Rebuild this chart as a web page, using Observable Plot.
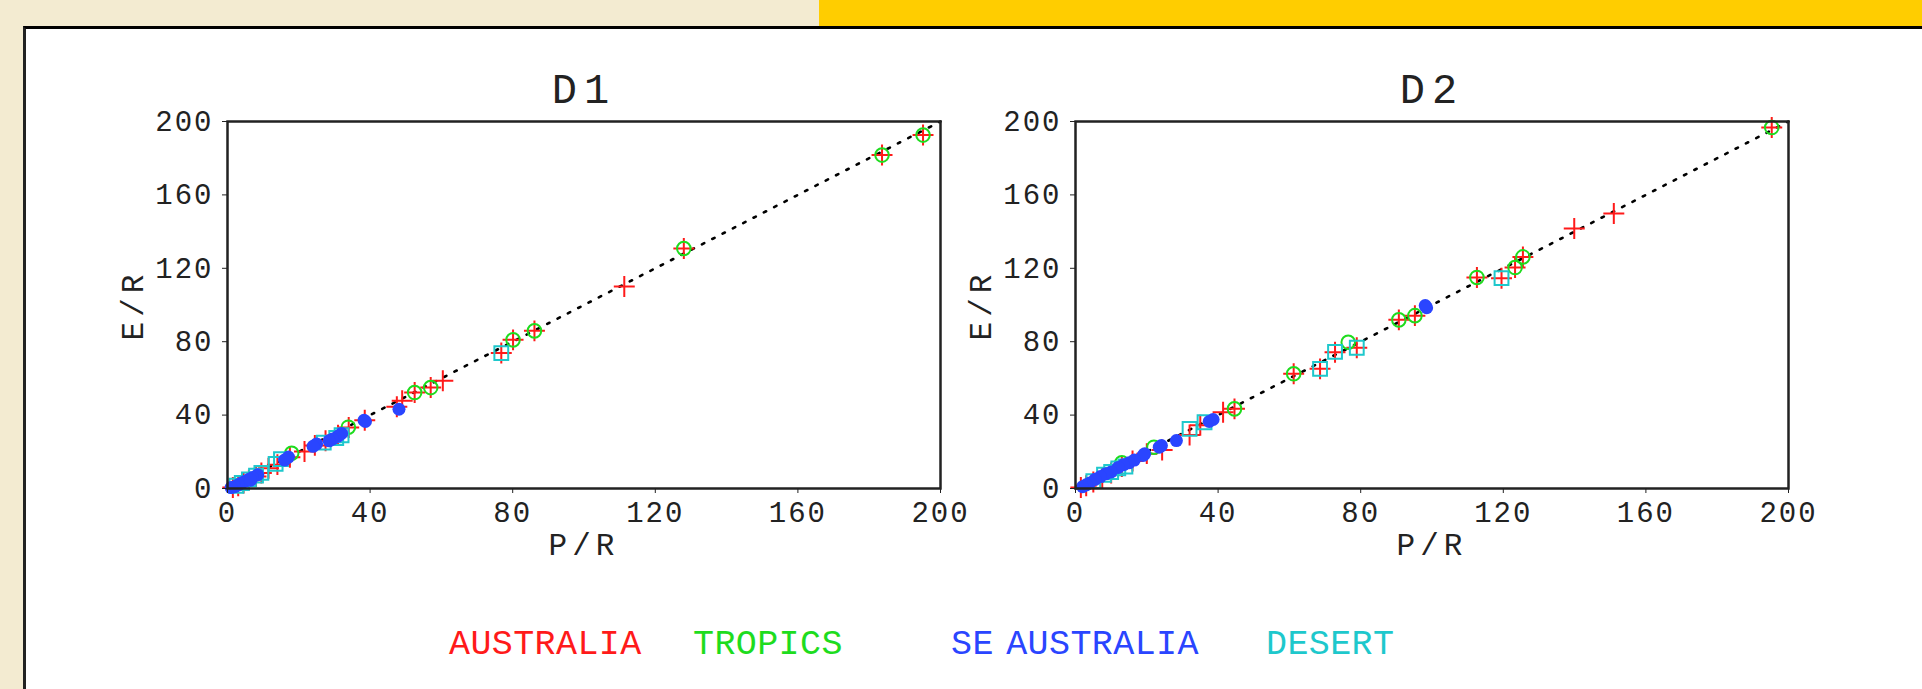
<!DOCTYPE html>
<html>
<head>
<meta charset="utf-8">
<script src="https://cdn.jsdelivr.net/npm/d3@7"></script>
<script src="https://cdn.jsdelivr.net/npm/@observablehq/plot@0.6"></script>
<style>
  html, body { margin: 0; padding: 0; }
  body { width: 1922px; height: 689px; background: #f3ebd1; position: relative; overflow: hidden;
         font-family: "Liberation Mono", "DejaVu Sans Mono", monospace; }
  #yellow { position: absolute; left: 819px; top: 0; width: 1103px; height: 26px; background: #ffcd00; }
  #panel { position: absolute; left: 23px; top: 26px; right: 0; bottom: 0; background: #fff;
           border-top: 3px solid #000; border-left: 3px solid #222; }
  .plot { position: absolute; top: 40px; }
  .leg { position: absolute; top: 628px; font-size: 35px; line-height: 35px; white-space: pre; letter-spacing: 0.4px; word-spacing: -9px; }
</style>
</head>
<body>
<div id="yellow"></div>
<div id="panel"></div>
<div id="p1" class="plot" style="left:100px"></div>
<div id="p2" class="plot" style="left:948px"></div>
<div id="legend"></div>
<script>
// ---- data (P/R, E/R) ----
const tickValues = [0, 40, 80, 120, 160, 200];
const oneToOne = [0, 200];
const panelTitles = ["D1", "D2"];
const seriesNames = ["AUSTRALIA", "TROPICS", "SE AUSTRALIA", "DESERT"];
const seriesColors = ["#ff1a1a", "#1edc1e", "#2a45ff", "#1ec8cc"];
const legendX = [449, 693, 951, 1266];

const d1Australia = [[195.1,192.6],[183.6,181.7],[128,130.8],[111.3,110.1],[86.1,85.9],[80.1,81],[76.8,73.8],
  [60.4,58.7],[57,55],[52.5,52.3],[49,47.8],[47.5,44.5],[38.5,37.2],[34,33.2],[31,29],[27.5,26],[24.5,23.5],
  [21.6,20.2],[17.5,17],[14,13],[11.5,11],[9.5,8.5],[8,6.5],[6,4.5],[4.5,3],[3,1.5],[1.5,0.5]];
const d1Tropics = [[195.1,192.6],[183.6,181.7],[128,130.8],[86.1,85.9],[80.1,81],[57,55],[52.5,52.3],
  [33.9,33.4],[18,19.2]];
const d1SEAustralia = [[48.1,43.2],[38.3,37.2],[38.7,36.5],[32,30],[31,28.5],[29.5,27],[28.5,26],[25,24.3],
  [24,23],[17.1,17.1],[16,15.5],[8.5,7.5],[7,6],[6,5],[5,4],[4,3],[3,2],[2,1],[1,0.5],[6.5,4.5]];
const d1Desert = [[76.8,73.8],[32,29],[30.5,27.5],[27,25],[15,16],[13.5,13.4],[9.5,8.5],[8,7],[6,5],[4,3],[2.5,1.5]];

const d2Australia = [[195.3,196.7],[151,149.9],[139.9,141.7],[125.5,126.2],[123.3,120.4],[119.5,114.6],[112.6,115],
  [95.2,94.2],[90.7,91.9],[78.9,76.7],[72.8,74.2],[68.6,65.2],[61.2,62.5],[44.6,43.4],[41.4,41.6],[35,34.5],
  [32,29.2],[24.3,21],[20,19],[16,15],[13,12],[10,8.5],[7.5,6],[5,3.5],[3,1.5],[1.5,0.5]];
const d2Tropics = [[195.3,196.7],[125.5,126.2],[123.3,120.4],[112.6,115],[95.2,94.2],[90.7,91.9],[76.5,79.7],
  [61.2,62.5],[44.6,43.4],[22,22.5],[13,14]];
const d2SEAustralia = [[98.1,99.7],[98.5,98.5],[38.6,37.6],[37.5,36.5],[28.3,26.1],[24.1,23.4],[23.5,22.5],
  [19.4,18.9],[19,18],[16.5,15.5],[15,14],[13.5,13],[12,11.5],[10,9],[8.5,8],[7,6.5],[5.5,5],[4,3],[3,2],[2,1]];
const d2Desert = [[119.5,114.6],[78.9,76.7],[72.8,74.5],[68.6,65.2],[36.2,36.1],[32,32.5],[14,12],[12,11],
  [10,9],[8,7.5],[5,4]];

const FONT = '"Liberation Mono", "DejaVu Sans Mono", monospace';

function panel(title, aus, tro, se, des) {
  const svg = Plot.plot({
    width: 870, height: 528,
    marginLeft: 127, marginRight: 30, marginTop: 81, marginBottom: 80,
    x: { domain: [0, 200], nice: false },
    y: { domain: [0, 200], nice: false },
    style: { fontFamily: FONT, fontSize: "29px", letterSpacing: "2px", color: "#222", background: "transparent", overflow: "visible" },
    marks: [
      Plot.line(oneToOne, { x: d => d, y: d => d, stroke: "#000", strokeWidth: 2.6, strokeDasharray: "2.6,9" }),
      Plot.dot(aus, { x: d => d[0], y: d => d[1], symbol: "plus", r: 6.8, stroke: seriesColors[0], strokeWidth: 2 }),
      Plot.dot(tro, { x: d => d[0], y: d => d[1], symbol: "circle", r: 6.8, stroke: seriesColors[1], strokeWidth: 2, fill: "none" }),
      Plot.dot(des, { x: d => d[0], y: d => d[1], symbol: "square", r: 7.8, stroke: seriesColors[3], strokeWidth: 2, fill: "none" }),
      Plot.dot(se, { x: d => d[0], y: d => d[1], symbol: "circle", r: 6.5, fill: seriesColors[2], stroke: "none" }),
      Plot.frame({ stroke: "#222", strokeWidth: 2.5 }),
      Plot.axisX({ ticks: tickValues, tickSize: 5, tickPadding: 8, fontSize: 29, label: null }),
      Plot.axisY({ ticks: tickValues, tickSize: 5, tickPadding: 9, fontSize: 29, label: null }),
      Plot.text([title], { text: d => d, frameAnchor: "top", dy: -32, fontSize: 42, lineAnchor: "middle", fill: "#222" }),
      Plot.text(["P/R"], { text: d => d, frameAnchor: "bottom", dy: 57, fontSize: 31, lineAnchor: "middle", textAnchor: "middle", fill: "#222" }),
      Plot.text(["E/R"], { text: d => d, frameAnchor: "left", dx: -94, rotate: -90, fontSize: 31, lineAnchor: "middle", textAnchor: "middle", fill: "#222" })
    ]
  });
  d3.select(svg).selectAll("text").each(function () {
    const t = this.textContent;
    if (t === title) this.style.letterSpacing = "7px";
    if (t === "P/R" || t === "E/R") this.style.letterSpacing = "5px";
  });
  return svg;
}

document.getElementById("p1").appendChild(panel(panelTitles[0], d1Australia, d1Tropics, d1SEAustralia, d1Desert));
document.getElementById("p2").appendChild(panel(panelTitles[1], d2Australia, d2Tropics, d2SEAustralia, d2Desert));

const legend = document.getElementById("legend");
seriesNames.forEach((name, i) => {
  const s = document.createElement("span");
  s.className = "leg";
  s.textContent = name;
  s.style.left = legendX[i] + "px";
  s.style.color = seriesColors[i];
  legend.appendChild(s);
});
</script>
</body>
</html>
